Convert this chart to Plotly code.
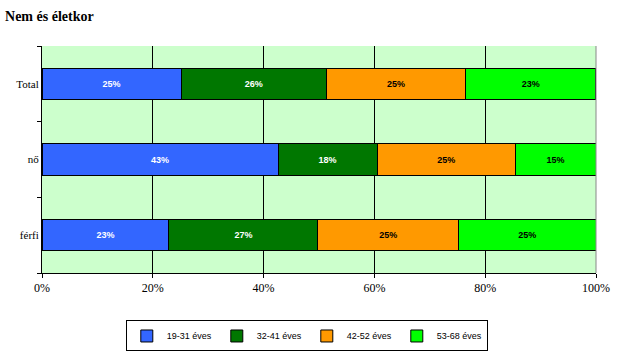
import plotly.graph_objects as go

categories = ["Total", "nő", "férfi"]
series_names = ["19-31 éves", "32-41 éves", "42-52 éves", "53-68 éves"]
v_19_31 = [25.1, 42.6, 22.9]
v_32_41 = [26.2, 17.9, 26.9]
v_42_52 = [25.2, 24.9, 25.4]
v_53_68 = [23.4, 14.6, 24.8]
x_ticks = [0, 20, 40, 60, 80, 100]
x_tick_labels = ["0%", "20%", "40%", "60%", "80%", "100%"]

colors = ["#3366FF", "#007700", "#FF9900", "#00FF00"]
text_colors = ["white", "white", "black", "black"]

fig = go.Figure()
for name, vals, c, tc in zip(series_names, [v_19_31, v_32_41, v_42_52, v_53_68], colors, text_colors):
    fig.add_trace(go.Bar(
        y=categories, x=vals, name=name, orientation="h",
        marker=dict(color=c, line=dict(color="black", width=1)),
        text=[f"<b>{round(v)}%</b>" for v in vals], textposition="inside",
        insidetextanchor="middle",
        textfont=dict(family="Liberation Sans, Arial", size=9, color=tc),
        hoverinfo="skip",
    ))

fig.update_layout(
    barmode="stack",
    width=630, height=364,
    margin=dict(l=42, r=34, t=46, b=91, autoexpand=False),
    paper_bgcolor="white",
    plot_bgcolor="#CCFFCC",
    bargap=0.59,
    uniformtext=dict(minsize=8, mode="show"),
    title=dict(text="<b>Nem és életkor</b>", x=0.008, xanchor="left", y=0.955, yanchor="middle",
               font=dict(family="Liberation Serif, Times New Roman", size=14, color="black")),
    xaxis=dict(range=[0, 100], tickvals=x_ticks, ticktext=x_tick_labels, showgrid=True, gridcolor="black",
               gridwidth=1, showline=True, linecolor="black", linewidth=1, ticks="outside",
               ticklen=4, tickcolor="black", zeroline=False, automargin=False,
               tickfont=dict(family="Liberation Serif, Times New Roman", size=12, color="black")),
    yaxis=dict(categoryorder="array", categoryarray=categories[::-1], showgrid=False,
               showline=True, linecolor="black", linewidth=1, ticks="outside", ticklen=4,
               tickson="boundaries", tickcolor="black", automargin=False,
               tickfont=dict(family="Liberation Serif, Times New Roman", size=11, color="black")),
    legend=dict(orientation="h", x=0.487, xanchor="center", xref="container",
                y=0.077, yanchor="middle", yref="container", traceorder="normal",
                bordercolor="black", borderwidth=1, bgcolor="white",
                font=dict(family="Liberation Sans, Arial", size=9, color="black"),
                itemwidth=30, entrywidth=45, entrywidthmode="pixels", tracegroupgap=0),
    showlegend=True,
)
fig.add_shape(type="line", xref="paper", yref="paper", x0=1, x1=1, y0=0, y1=1,
              line=dict(color="#888888", width=1))
fig.write_html("out.html", config={"displayModeBar": False},
               post_script="document.body.style.margin='0';")
